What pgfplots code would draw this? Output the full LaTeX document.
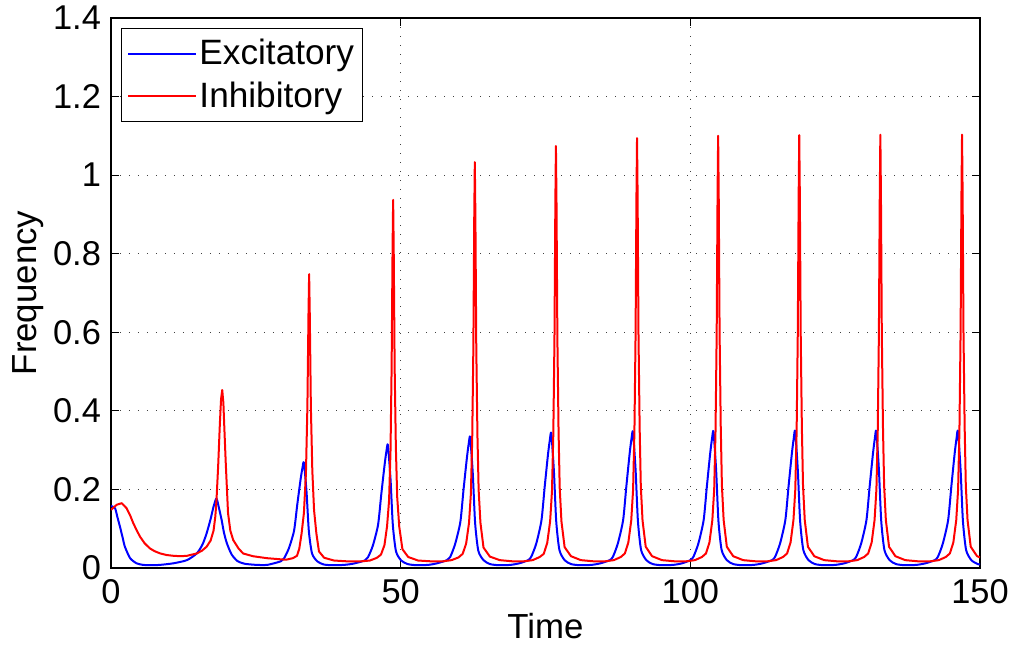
\documentclass[border=0pt]{standalone}
\usepackage{pgfplots}
\pgfplotsset{compat=1.18}
\usepackage{fontspec}
\setmainfont{Liberation Sans}
\usetikzlibrary{calc}
\begin{document}
\begin{tikzpicture}
\begin{axis}[
  scale only axis,
  width=434.5pt, height=275pt,
  xmin=0, xmax=150, ymin=0, ymax=1.4,
  xtick={0,50,100,150},
  ytick={0,0.2,0.4,0.6,0.8,1,1.2,1.4},
  tick align=inside,
  major tick length=4pt,
  tick style={black, line width=0.5pt},
  axis line style={black, line width=0.6pt},
  grid=major,
  major grid style={black!75, line width=0.5pt, dash pattern=on 0.6pt off 3.9pt},
  /pgf/number format/assume math mode=true,
  tick label style={font=\fontsize{17.2}{20}\selectfont},
  xticklabel style={yshift=-2pt},
  yticklabel style={xshift=-1.5pt},
  xlabel={Time}, ylabel={Frequency},
  label style={font=\fontsize{17.4}{20}\selectfont},
  xlabel style={inner sep=0pt, yshift=-1.6pt},
  ylabel style={yshift=-2pt},
  legend cell align=left,
  legend style={at={(rel axis cs:0,1)}, anchor=north west, xshift=5pt, yshift=-5pt,
    draw=black, line width=0.5pt, font=\fontsize{17.6}{20}\selectfont,
    inner xsep=3pt, inner ysep=3.5pt, row sep=3pt,
    nodes={inner xsep=1pt}},
  legend image code/.code={\path (0pt,0pt) -- (34pt,0pt); \draw[#1] (3pt,0pt) -- (33pt,0pt);},
  every axis plot/.append style={line width=1pt, line join=round},
]
\addplot[blue, smooth, tension=0.4] coordinates {
(0,0.158) (0.7,0.152) (1.1,0.13) (1.55,0.105) (2.0,0.078) (2.4,0.054) (3.3,0.025) (4.4,0.012) (5.5,0.008) (6.7,0.007) (8.5,0.008) (10.8,0.012) (13.1,0.02) (14.8,0.037) (15.8,0.06) (16.5,0.088) (17.2,0.125) (17.7,0.156) (18.2,0.177) (18.6,0.155) (19.1,0.122) (19.5,0.09) (20.0,0.063) (20.8,0.035) (21.8,0.018) (23,0.011) (25,0.008) (27,0.008)
(29.3,0.017) (29.85,0.024) (30.7,0.050) (31.6,0.095) (32.15,0.161) (32.73,0.226) (33.05,0.255) (33.3,0.268) (33.75,0.194) (34.15,0.094) (34.7,0.037) (35.6,0.017) (36.7,0.009) (38.3,0.007) (40.3,0.008) (41.8,0.011)
(43.8,0.019) (44.35,0.027) (45.2,0.057) (46.1,0.110) (46.65,0.187) (47.23,0.263) (47.55,0.298) (47.8,0.313) (48.25,0.226) (48.65,0.109) (49.2,0.042) (50.1,0.019) (51.2,0.010) (52.8,0.007) (54.8,0.008) (56.3,0.012)
(58.0,0.020) (58.55,0.028) (59.4,0.061) (60.3,0.117) (60.85,0.199) (61.43,0.280) (61.75,0.317) (62.0,0.333) (62.45,0.240) (62.85,0.115) (63.4,0.044) (64.3,0.020) (65.4,0.010) (67.0,0.007) (69.0,0.008) (70.5,0.012)
(72.0,0.020) (72.55,0.029) (73.4,0.062) (74.3,0.121) (74.85,0.205) (75.43,0.289) (75.75,0.326) (76.0,0.343) (76.45,0.247) (76.85,0.119) (77.4,0.046) (78.3,0.020) (79.4,0.010) (81.0,0.007) (83.0,0.008) (84.5,0.012)
(86.1,0.020) (86.65,0.029) (87.5,0.063) (88.4,0.122) (88.95,0.207) (89.53,0.292) (89.85,0.330) (90.1,0.346) (90.55,0.250) (90.95,0.120) (91.5,0.046) (92.4,0.020) (93.5,0.010) (95.1,0.007) (97.1,0.008) (98.6,0.012)
(100.0,0.020) (100.55,0.029) (101.4,0.063) (102.3,0.122) (102.85,0.207) (103.43,0.292) (103.75,0.330) (104.0,0.347) (104.45,0.250) (104.85,0.120) (105.4,0.046) (106.3,0.020) (107.4,0.010) (109.0,0.007) (111.0,0.008) (112.5,0.012)
(114.1,0.020) (114.65,0.029) (115.5,0.063) (116.4,0.122) (116.95,0.207) (117.53,0.292) (117.85,0.330) (118.1,0.348) (118.55,0.250) (118.95,0.120) (119.5,0.046) (120.4,0.020) (121.5,0.010) (123.1,0.007) (125.1,0.008) (126.6,0.012)
(128.1,0.020) (128.65,0.029) (129.5,0.063) (130.4,0.122) (130.95,0.207) (131.53,0.292) (131.85,0.330) (132.1,0.348) (132.55,0.250) (132.95,0.120) (133.5,0.046) (134.4,0.020) (135.5,0.010) (137.1,0.007) (139.1,0.008) (140.6,0.012)
(142.2,0.020) (142.75,0.029) (143.6,0.063) (144.5,0.122) (145.05,0.207) (145.63,0.292) (145.95,0.330) (146.2,0.348) (146.65,0.250) (147.05,0.120) (147.6,0.046) (148.5,0.020) (149.6,0.010) (150,0.009)
};
\addlegendentry{Excitatory}
\addplot[red] coordinates {
(0,0.148) (0.5,0.155) (1.0,0.161) (1.85,0.165) (2.7,0.152) (3.3,0.134) (3.85,0.114) (4.4,0.097) (5.0,0.08) (5.8,0.063) (6.7,0.05) (7.5,0.043) (8.5,0.037) (9.6,0.033) (10.8,0.031) (12,0.030) (13.1,0.031) (14.8,0.037) (15.7,0.044) (16.5,0.054) (17.2,0.07) (17.7,0.095) (18.0,0.13) (18.2,0.17) (18.5,0.26) (18.8,0.37) (19.0,0.43) (19.2,0.453) (19.4,0.42) (19.5,0.38) (19.8,0.27) (20.2,0.14) (20.6,0.095) (21.1,0.071) (22,0.05) (22.8,0.037) (24.5,0.03) (26.9,0.025) (30.2,0.021)
(31.4,0.025) (32.1,0.031) (32.5,0.049) (32.9,0.088) (33.3,0.140) (33.65,0.242) (33.9,0.410) (34.09,0.647) (34.2,0.748) (34.31,0.647) (34.5,0.410) (34.75,0.248) (35.05,0.147) (35.45,0.088) (35.9,0.042) (36.8,0.026) (38.5,0.019) (40.7,0.017)
(43.2,0.017) (44.7,0.019) (45.9,0.026) (46.6,0.034) (47.2,0.058) (47.65,0.106) (48.0,0.172) (48.25,0.300) (48.44,0.512) (48.6,0.810) (48.7,0.937) (48.8,0.810) (48.96,0.512) (49.17,0.308) (49.4,0.181) (49.75,0.106) (50.3,0.048) (51.3,0.028) (53.0,0.019) (55.2,0.017)
(57.3,0.017) (58.8,0.020) (60.0,0.027) (60.7,0.036) (61.3,0.062) (61.8,0.115) (62.12,0.189) (62.35,0.329) (62.55,0.564) (62.7,0.892) (62.8,1.033) (62.9,0.892) (63.05,0.564) (63.25,0.339) (63.46,0.198) (63.77,0.115) (64.3,0.052) (65.4,0.029) (67.1,0.020) (69.3,0.017)
(71.3,0.017) (72.8,0.020) (74.0,0.028) (74.7,0.036) (75.3,0.064) (75.8,0.119) (76.12,0.196) (76.35,0.342) (76.55,0.586) (76.7,0.928) (76.8,1.074) (76.9,0.928) (77.05,0.586) (77.25,0.352) (77.45,0.205) (77.75,0.119) (78.3,0.053) (79.4,0.030) (81.1,0.020) (83.3,0.017)
(85.3,0.017) (86.8,0.020) (88.0,0.028) (88.7,0.037) (89.3,0.065) (89.8,0.121) (90.12,0.199) (90.35,0.348) (90.55,0.597) (90.7,0.945) (90.8,1.094) (90.9,0.945) (91.05,0.597) (91.25,0.358) (91.45,0.209) (91.75,0.121) (92.3,0.054) (93.4,0.030) (95.1,0.020) (97.3,0.017)
(99.3,0.017) (100.8,0.020) (102.0,0.028) (102.7,0.037) (103.3,0.065) (103.8,0.122) (104.12,0.200) (104.35,0.350) (104.55,0.600) (104.7,0.950) (104.8,1.100) (104.9,0.950) (105.05,0.600) (105.25,0.360) (105.45,0.210) (105.75,0.122) (106.3,0.054) (107.4,0.030) (109.1,0.020) (111.3,0.017)
(113.3,0.017) (114.8,0.020) (116.0,0.028) (116.7,0.037) (117.3,0.065) (117.8,0.122) (118.12,0.200) (118.35,0.350) (118.55,0.600) (118.7,0.950) (118.8,1.102) (118.9,0.950) (119.05,0.600) (119.25,0.360) (119.45,0.210) (119.75,0.122) (120.3,0.054) (121.4,0.030) (123.1,0.020) (125.3,0.017)
(127.3,0.017) (128.8,0.020) (130.0,0.028) (130.7,0.037) (131.3,0.065) (131.8,0.122) (132.12,0.200) (132.35,0.350) (132.55,0.600) (132.7,0.950) (132.8,1.103) (132.9,0.950) (133.05,0.600) (133.25,0.360) (133.45,0.210) (133.75,0.122) (134.3,0.054) (135.4,0.030) (137.1,0.020) (139.3,0.017)
(141.4,0.017) (142.9,0.020) (144.1,0.028) (144.8,0.037) (145.4,0.065) (145.9,0.122) (146.22,0.200) (146.45,0.350) (146.65,0.600) (146.8,0.950) (146.9,1.103) (147.0,0.950) (147.15,0.600) (147.35,0.360) (147.55,0.210) (147.85,0.122) (148.4,0.054) (149.5,0.030) (150,0.027)
};
\addlegendentry{Inhibitory}
\end{axis}
\pgfresetboundingbox
\path ($(current axis.south west)+(-55.5pt,-39pt)$) rectangle ($(current axis.north east)+(16pt,9pt)$);
\end{tikzpicture}
\end{document}
